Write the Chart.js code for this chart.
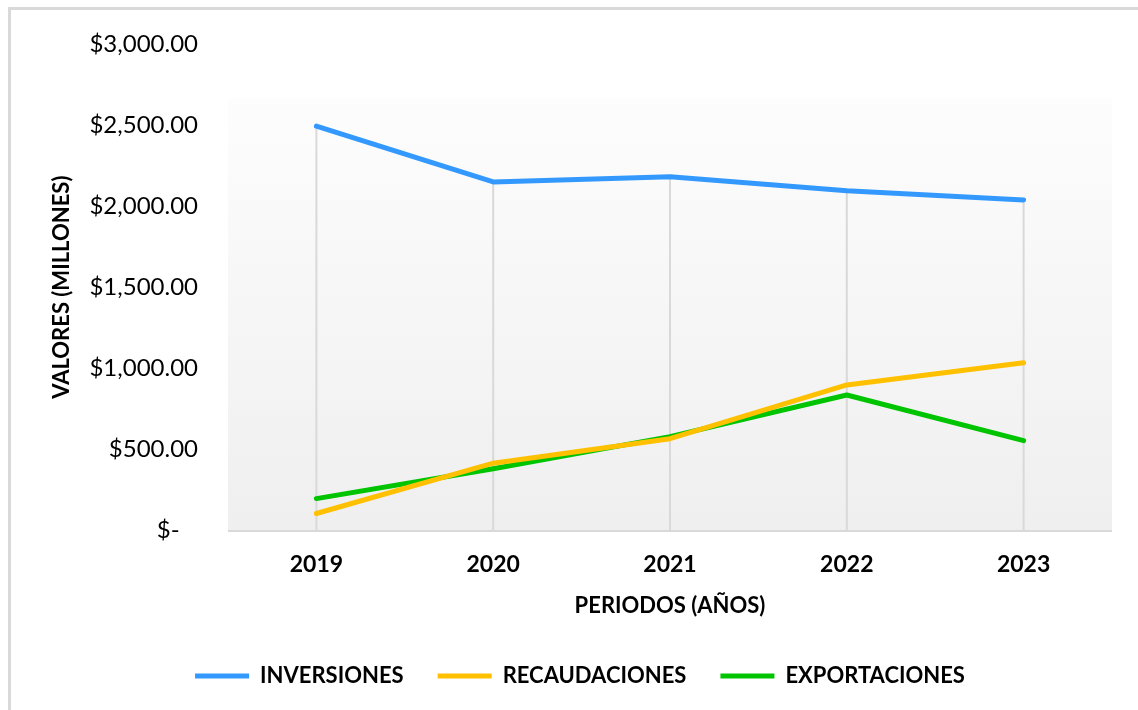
<!DOCTYPE html>
<html>
<head>
<meta charset="utf-8">
<script src="https://cdn.jsdelivr.net/npm/chart.js@4/dist/chart.umd.min.js"></script>
<style>
  html, body { margin: 0; padding: 0; background: #ffffff; overflow: hidden; }
  #wrap { position: relative; width: 1138px; height: 710px; }
  #frame { position: absolute; left: 8px; top: 7px; width: 1200px; height: 800px;
           border-top: 3px solid #d9d9d9; border-left: 3px solid #d9d9d9; pointer-events: none; }
</style>
</head>
<body>
<div id="wrap">
  <canvas id="c" width="1138" height="710"></canvas>
  <div id="frame"></div>
</div>
<script>
const categories = ['2019', '2020', '2021', '2022', '2023'];
const inversiones = [2495, 2150, 2182, 2096, 2039];
const recaudaciones = [102, 413, 564, 896, 1033];
const exportaciones = [194, 378, 577, 834, 552];
const yTicks = [0, 500, 1000, 1500, 2000, 2500, 3000];

const FONT = 'Lato, "Open Sans", sans-serif';

const plotBg = {
  id: 'plotBg',
  beforeDatasetsDraw(chart) {
    const { ctx, chartArea: a, scales } = chart;
    const top = a.top + (a.bottom - a.top) * 0.11;
    const g = ctx.createLinearGradient(0, top, 0, a.bottom);
    g.addColorStop(0, '#fdfdfd');
    g.addColorStop(1, '#efefef');
    ctx.save();
    ctx.fillStyle = g;
    ctx.fillRect(a.left, top, a.right - a.left, a.bottom - top);
    // drop lines
    ctx.strokeStyle = '#d9d9d9';
    ctx.lineWidth = 2;
    categories.forEach((c, i) => {
      const maxV = Math.max(...chart.data.datasets.map(d => d.data[i]));
      const x = scales.x.getPixelForValue(i);
      ctx.beginPath();
      ctx.moveTo(x, scales.y.getPixelForValue(maxV));
      ctx.lineTo(x, a.bottom);
      ctx.stroke();
    });
    // x axis line
    ctx.lineWidth = 2;
    ctx.beginPath();
    ctx.moveTo(a.left, a.bottom + 1);
    ctx.lineTo(a.right, a.bottom + 1);
    ctx.stroke();
    ctx.restore();
  }
};

function fmt(v) {
  if (v === 0) return '$-   ';
  return '$' + v.toLocaleString('en-US', { minimumFractionDigits: 2, maximumFractionDigits: 2 });
}

new Chart(document.getElementById('c'), {
  type: 'line',
  data: {
    labels: categories,
    datasets: [
      { label: 'INVERSIONES', data: inversiones, borderColor: '#3399ff', backgroundColor: '#3399ff' },
      { label: 'RECAUDACIONES', data: recaudaciones, borderColor: '#ffc000', backgroundColor: '#ffc000' },
      { label: 'EXPORTACIONES', data: exportaciones, borderColor: '#00c400', backgroundColor: '#00c400' }
    ]
  },
  options: {
    responsive: false,
    animation: false,
    devicePixelRatio: 1,
    layout: { padding: { left: 48, right: 26, top: 35, bottom: 13 } },
    elements: {
      line: { borderWidth: 5, tension: 0, borderCapStyle: 'round', borderJoinStyle: 'round' },
      point: { radius: 0, hoverRadius: 0 }
    },
    scales: {
      x: {
        offset: true,
        grid: { display: false, drawTicks: false },
        border: { display: false },
        ticks: { color: '#000', font: { family: FONT, size: 23, weight: 'bold' }, padding: 21 },
        title: { display: true, text: 'PERIODOS (AÑOS)', color: '#000',
                 font: { family: FONT, size: 22, weight: 'bold' }, padding: { top: 6, bottom: 12 } },
        afterFit(s) { s.height = 101; }
      },
      y: {
        min: 0, max: 3000,
        afterBuildTicks(s) { s.ticks = yTicks.map(v => ({ value: v })); },
        grid: { display: false, drawTicks: false },
        border: { display: false },
        ticks: { color: '#000', font: { family: FONT, size: 24 }, padding: 30, callback: v => fmt(v) },
        title: { display: true, text: 'VALORES (MILLONES)', color: '#000',
                 font: { family: FONT, size: 22, weight: 'bold' }, padding: { top: 1, bottom: 0 } },
        afterFit(s) { s.width = 180; }
      }
    },
    plugins: {
      tooltip: { enabled: false },
      legend: {
        position: 'bottom',
        labels: {
          color: '#000',
          font: { family: FONT, size: 22, weight: 'bold' },
          boxWidth: 54, boxHeight: 5, padding: 34,
          generateLabels(chart) {
            const items = Chart.defaults.plugins.legend.labels.generateLabels(chart);
            items.forEach(it => { it.lineWidth = 0; });
            return items;
          }
        }
      }
    }
  },
  plugins: [plotBg]
});
</script>
</body>
</html>
